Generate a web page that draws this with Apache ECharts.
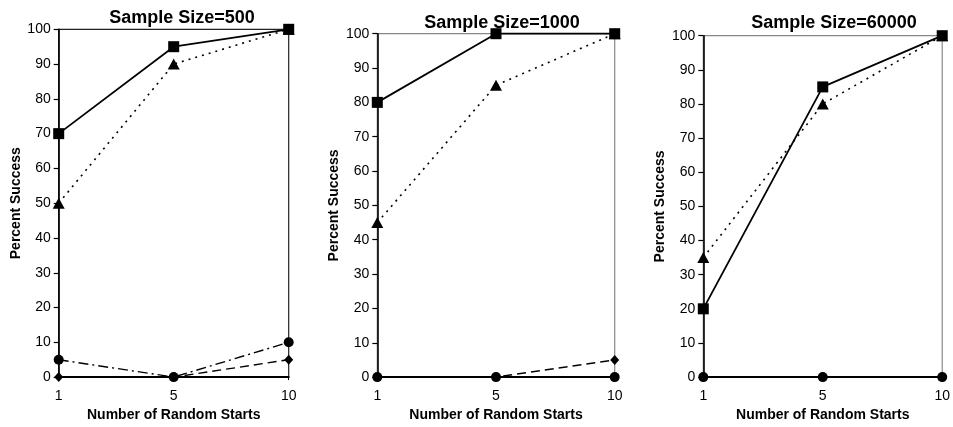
<!DOCTYPE html>
<html>
<head>
<meta charset="utf-8">
<script src="https://cdn.jsdelivr.net/npm/echarts@6/dist/echarts.min.js"></script>
<style>html,body{margin:0;padding:0;background:#fff;}#c{width:953px;height:427px;}</style>
</head>
<body>
<div id="c"></div>
<script>
const starts = ['1', '5', '10'];
const titles = ['Sample Size=500', 'Sample Size=1000', 'Sample Size=60000'];
const yTicks = [0, 10, 20, 30, 40, 50, 60, 70, 80, 90, 100];

const square500 = [70, 95, 100];
const triangle500 = [50, 90, 100];
const circle500 = [5, 0, 10];
const diamond500 = [0, 0, 5];

const square1000 = [80, 100, 100];
const triangle1000 = [45, 85, 100];
const circle1000 = [0, 0, 0];
const diamond1000 = [0, 0, 5];

const square60000 = [20, 85, 100];
const triangle60000 = [35, 80, 100];
const circle60000 = [0, 0, 0];
const diamond60000 = [0, 0, 0];

const panels = [
  {sq: square500, tri: triangle500, cir: circle500, dia: diamond500},
  {sq: square1000, tri: triangle1000, cir: circle1000, dia: diamond1000},
  {sq: square60000, tri: triangle60000, cir: circle60000, dia: diamond60000}
];

const FONT = 'Liberation Sans, Arial, sans-serif';
const grids = [
  {left: 58.7, top: 29.3, width: 230, height: 350, borderColor: '#222'},
  {left: 377.3, top: 33.7, width: 237.4, height: 345.3, borderColor: '#888'},
  {left: 703.3, top: 35.7, width: 240.7, height: 345.3, borderColor: '#888'}
];
const titlePos = [{x: 177, y: 4}, {x: 497, y: 9}, {x: 829, y: 9}];

const option = {
  animation: false,
  backgroundColor: '#fff',
  title: titles.map((t, i) => ({
    text: t, left: titlePos[i].x, top: titlePos[i].y, textAlign: 'center',
    textStyle: {fontFamily: FONT, fontSize: 18, fontWeight: 'bold', color: '#000'}
  })),
  grid: grids.map(g => ({left: g.left, top: g.top, width: g.width, height: g.height,
    show: true, borderColor: g.borderColor, borderWidth: 1.2, backgroundColor: 'transparent'})),
  xAxis: grids.map((g, i) => ({
    type: 'category', gridIndex: i, data: starts, boundaryGap: false,
    name: 'Number of Random Starts', nameLocation: 'middle', nameGap: 27,
    nameTextStyle: {fontFamily: FONT, fontSize: 14, fontWeight: 'bold', color: '#000'},
    axisLine: {lineStyle: {color: '#000', width: 2}},
    axisTick: {show: true, length: 3, alignWithLabel: true, lineStyle: {color: '#000'}},
    axisLabel: {fontFamily: FONT, fontSize: 14, color: '#000', margin: 12},
    splitLine: {show: false}
  })),
  yAxis: grids.map((g, i) => ({
    type: 'value', gridIndex: i, min: 0, max: 100, interval: 10,
    name: 'Percent Success', nameLocation: 'middle', nameGap: 36,
    nameTextStyle: {fontFamily: FONT, fontSize: 14, fontWeight: 'bold', color: '#000'},
    axisLine: {show: true, lineStyle: {color: '#000', width: 1.6}},
    axisTick: {show: true, length: 5, lineStyle: {color: '#000', width: 1.2}},
    axisLabel: {fontFamily: FONT, fontSize: 14, color: '#000', margin: 8,
      formatter: v => yTicks.indexOf(v) >= 0 ? String(v) : ''},
    splitLine: {show: false}
  })),
  series: []
};

panels.forEach((p, i) => {
  const base = {type: 'line', xAxisIndex: i, yAxisIndex: i, clip: false, silent: true,
    itemStyle: {color: '#000'}};
  option.series.push(Object.assign({}, base, {
    name: 'diamond', data: p.dia, symbol: 'diamond', symbolSize: [9, 10], z: 2,
    lineStyle: {color: '#000', width: 1.4, type: [9, 5]}
  }));
  option.series.push(Object.assign({}, base, {
    name: 'circle', data: p.cir, symbol: 'circle', symbolSize: 10, z: 3,
    lineStyle: {color: '#000', width: 1.4, type: [10, 4, 2, 4]}
  }));
  option.series.push(Object.assign({}, base, {
    name: 'triangle', data: p.tri, symbol: 'triangle', symbolSize: [12, 11], z: 4,
    lineStyle: {color: '#000', width: 1.6, type: [2, 5]}
  }));
  option.series.push(Object.assign({}, base, {
    name: 'square', data: p.sq, symbol: 'rect', symbolSize: 11, z: 5,
    lineStyle: {color: '#000', width: 1.8, type: 'solid'}
  }));
});

const chart = echarts.init(document.getElementById('c'), null, {renderer: 'canvas'});
chart.setOption(option);
</script>
</body>
</html>
